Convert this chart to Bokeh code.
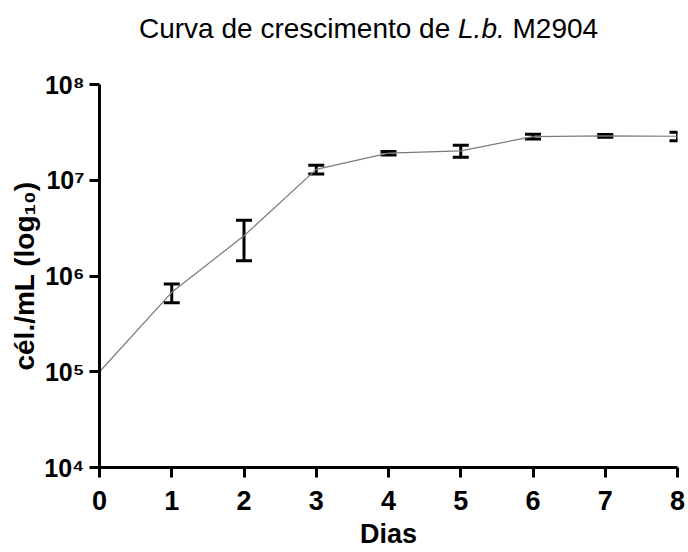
from bokeh.plotting import figure
from bokeh.layouts import column
from bokeh.models import Range1d, FixedTicker, Whisker, TeeHead, ColumnDataSource, Div
from bokeh.embed import file_html
from bokeh.resources import INLINE

# ---- data ----
days = [0, 1, 2, 3, 4, 5, 6, 7, 8]
means = [1.0e5, 6.75e5, 2.63e6, 1.30e7, 1.92e7, 2.03e7, 2.86e7, 2.91e7, 2.88e7]
sds = [0.0, 1.5e5, 1.19e6, 0.135e7, 0.08e7, 0.29e7, 0.17e7, 0.10e7, 0.29e7]

x_ticks = [0, 1, 2, 3, 4, 5, 6, 7, 8]
y_ticks = [1e4, 1e5, 1e6, 1e7, 1e8]
y_tick_labels = ["10⁴", "10⁵", "10⁶", "10⁷", "10⁸"]

title_parts = ["Curva de crescimento de", "L.b.", "M2904"]
x_label = "Dias"
y_label = "cél./mL (log₁₀)"

FONT = "Liberation Sans"
W, H = 686, 552
TH = 50                              # title strip height
FL, FT, FR, FB = 99, 84, 677, 467    # axis box edges in page pixels

title = Div(
    text=('<div style="position:relative; left:139px; top:15px; '
          'font-family:\'Liberation Sans\'; font-size:28px; line-height:28px; '
          'white-space:nowrap; color:black">'
          f'{title_parts[0]} <i>{title_parts[1]}</i> {title_parts[2]}</div>'),
    width=W, height=TH, margin=0)

p = figure(width=W, height=H - TH, y_axis_type="log",
           x_range=Range1d(0, 8), y_range=Range1d(1e4, 1e8),
           output_backend="svg", toolbar_location=None,
           min_border_left=FL, min_border_right=W - FR,
           min_border_top=FT - TH, min_border_bottom=H - FB)
p.outline_line_color = None
p.xgrid.grid_line_color = None
p.ygrid.grid_line_color = None
p.background_fill_color = "white"
p.border_fill_color = "white"

for ax in (p.xaxis[0], p.yaxis[0]):
    ax.axis_line_width = 3
    ax.axis_line_color = "black"
    ax.major_tick_line_width = 3
    ax.major_tick_line_color = "black"
    ax.major_tick_out = 10
    ax.major_tick_in = 0
    ax.minor_tick_out = 0
    ax.minor_tick_in = 0
    ax.major_label_text_font = FONT
    ax.major_label_text_font_style = "bold"
    ax.major_label_text_color = "black"
    ax.axis_label_text_font = FONT
    ax.axis_label_text_font_style = "bold"
    ax.axis_label_text_color = "black"

p.xaxis.major_label_text_font_size = "27px"
p.yaxis.major_label_text_font_size = "25px"
p.xaxis.axis_label_text_font_size = "27px"
p.yaxis.axis_label_text_font_size = "28px"

p.xaxis.ticker = FixedTicker(ticks=x_ticks)
p.yaxis.ticker = FixedTicker(ticks=y_ticks)
p.yaxis.major_label_overrides = {v: s for v, s in zip(y_ticks, y_tick_labels)}
p.xaxis.axis_label = x_label
p.yaxis.axis_label = y_label
p.xaxis.major_label_standoff = 13
p.yaxis.major_label_standoff = 5
p.xaxis.axis_label_standoff = 6
p.yaxis.axis_label_standoff = 1

# connecting line
p.line(x=days, y=means, line_color="#7a7a7a", line_width=1.2)

# error bars (skip points without deviation)
ex = [d for d, s in zip(days, sds) if s > 0]
up = [m + s for m, s in zip(means, sds) if s > 0]
lo = [m - s for m, s in zip(means, sds) if s > 0]
src = ColumnDataSource(data=dict(x=ex, upper=up, lower=lo))
w = Whisker(base="x", upper="upper", lower="lower", source=src,
            line_width=3, line_color="black",
            upper_head=TeeHead(size=16, line_width=3, line_color="black"),
            lower_head=TeeHead(size=16, line_width=3, line_color="black"))
p.add_layout(w)

layout = column(title, p, spacing=0)
open("out.html", "w", encoding="utf-8").write(file_html(layout, INLINE))
